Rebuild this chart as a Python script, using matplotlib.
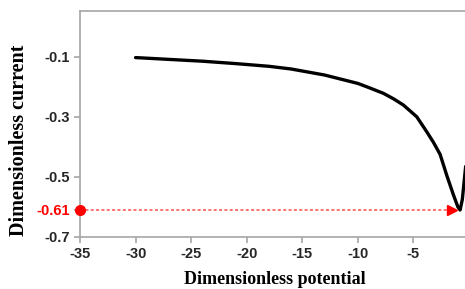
import matplotlib.pyplot as plt

# values
potential = [-30, -27, -24, -21, -18, -16, -13, -10, -9, -7.7, -6.8, -5.9,
             -4.7, -3.8, -3.2, -2.6, -2.0, -1.4, -1.0, -0.8, -0.6, -0.45, -0.3]
current = [-0.103, -0.109, -0.115, -0.123, -0.132, -0.141, -0.161, -0.189,
           -0.203, -0.222, -0.240, -0.261, -0.300, -0.350, -0.385, -0.425,
           -0.495, -0.560, -0.600, -0.610, -0.575, -0.520, -0.465]
peak_x = -1.5
peak_y = -0.61

xticks = [-35, -30, -25, -20, -15, -10, -5]
yticks = [-0.7, -0.61, -0.5, -0.3, -0.1]
ylabels = ['-0.7', '-0.61', '-0.5', '-0.3', '-0.1']

fig = plt.figure(figsize=(4.65, 2.89), dpi=100)
ax = fig.add_axes([80/465, 52/289, 389/465, 226/289])

ax.plot(potential, current, color='black', lw=2.4, solid_capstyle='round',
        solid_joinstyle='round', zorder=3)
ax.plot([-35, peak_x], [peak_y, peak_y], color='#ff5050', lw=1.1,
        ls=(0, (2, 1.5)), zorder=2)
ax.plot(peak_x, peak_y, marker='>', color='red', ms=7, zorder=2)
ax.plot(-35, peak_y, marker='o', color='red', ms=7, clip_on=False, zorder=4)

ax.set_xlim(-35, 0)
ax.set_ylim(-0.7, 0.052)
ax.set_xticks(xticks)
ax.set_xticklabels([str(t) for t in xticks])
ax.set_yticks(yticks)
ax.set_yticklabels(ylabels)

for s in ['left', 'bottom', 'top']:
    ax.spines[s].set_color('#a6a6a6')
    ax.spines[s].set_linewidth(1.2)
ax.spines['right'].set_visible(False)

ax.tick_params(axis='both', colors='#a6a6a6', length=4, width=1.2, labelsize=10.5)
for lab in ax.get_xticklabels() + ax.get_yticklabels():
    lab.set_fontfamily('Liberation Sans')
    lab.set_fontweight('bold')
    lab.set_color('#262626')
ax.get_yticklabels()[1].set_color('red')

ax.set_xlabel('Dimensionless potential', fontfamily='Liberation Serif',
              fontweight='bold', fontsize=13, labelpad=7)
ax.set_ylabel('Dimensionless current', fontfamily='Liberation Serif',
              fontweight='bold', fontsize=14.5)
ax.yaxis.set_label_coords(-0.13, 0.43)

fig.savefig('out.png', dpi=100)
